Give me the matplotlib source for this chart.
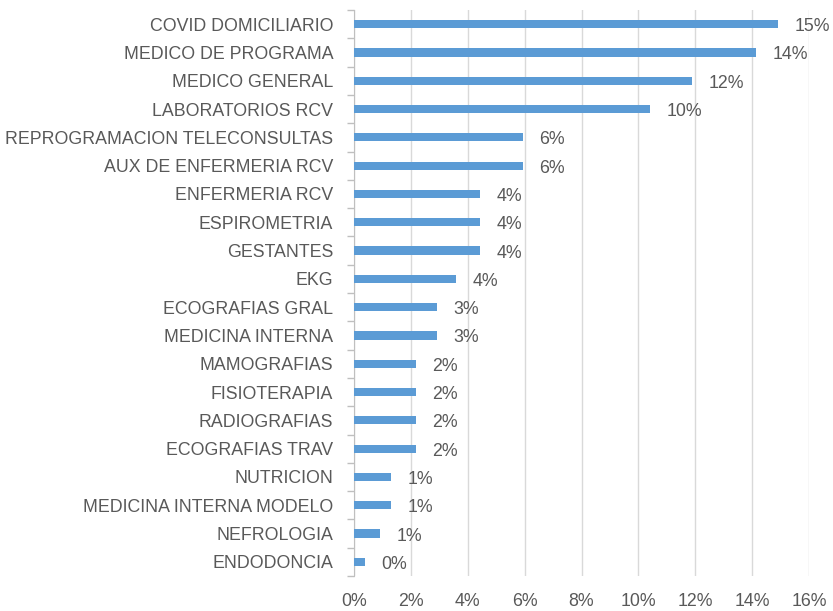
import matplotlib
matplotlib.use("Agg")
import matplotlib.pyplot as plt
import numpy as np
from matplotlib.ticker import FuncFormatter, FixedLocator

categories = ["COVID DOMICILIARIO", "MEDICO DE PROGRAMA", "MEDICO GENERAL", "LABORATORIOS RCV",
              "REPROGRAMACION TELECONSULTAS", "AUX DE ENFERMERIA RCV", "ENFERMERIA RCV",
              "ESPIROMETRIA", "GESTANTES", "EKG", "ECOGRAFIAS GRAL", "MEDICINA INTERNA",
              "MAMOGRAFIAS", "FISIOTERAPIA", "RADIOGRAFIAS", "ECOGRAFIAS TRAV", "NUTRICION",
              "MEDICINA INTERNA MODELO", "NEFROLOGIA", "ENDODONCIA"]
values = [0.149, 0.1415, 0.119, 0.104, 0.0593, 0.0593, 0.0442, 0.0442, 0.0442, 0.0358,
          0.0292, 0.0292, 0.0218, 0.0218, 0.0218, 0.0218, 0.0129, 0.0129, 0.0091, 0.0037]
xticks = [0, 0.02, 0.04, 0.06, 0.08, 0.10, 0.12, 0.14, 0.16]

plt.rcParams['font.family'] = ['Liberation Sans', 'DejaVu Sans']
txt = '#595959'
fs = 12.8

fig = plt.figure(figsize=(8.33, 6.11), dpi=100)
ax = fig.add_axes([354/833, 1-576/611, (809-354)/833, (576-10)/611])

n = len(categories)
y = np.arange(n)
ax.barh(y, values, height=0.29, color='#5B9BD5', zorder=3)
ax.set_ylim(n - 0.5, -0.5)
ax.set_xlim(0, 0.16)

for yi, v in zip(y, values):
    ax.text(v + 0.0058, yi + 0.09, f"{v*100:.0f}%", va='center', ha='left', fontsize=fs, color=txt)

ax.set_yticks(y)
ax.set_yticklabels(categories, fontsize=fs, color=txt)
ax.tick_params(axis='y', which='major', length=0, pad=15)
ax.yaxis.set_minor_locator(FixedLocator(np.arange(-0.5, n, 1.0)))
ax.tick_params(axis='y', which='minor', length=5, color='#bfbfbf', width=1)

ax.set_xticks(xticks)
ax.xaxis.set_major_formatter(FuncFormatter(lambda v, p: f"{v*100:.0f}%"))
ax.tick_params(axis='x', length=0, labelsize=fs, labelcolor=txt, pad=12)
ax.grid(axis='x', color='#d9d9d9', linewidth=1, zorder=0)

for s in ['top', 'right', 'bottom']:
    ax.spines[s].set_visible(False)
ax.spines['left'].set_color('#bfbfbf')

fig.savefig('out.png', dpi=100)
